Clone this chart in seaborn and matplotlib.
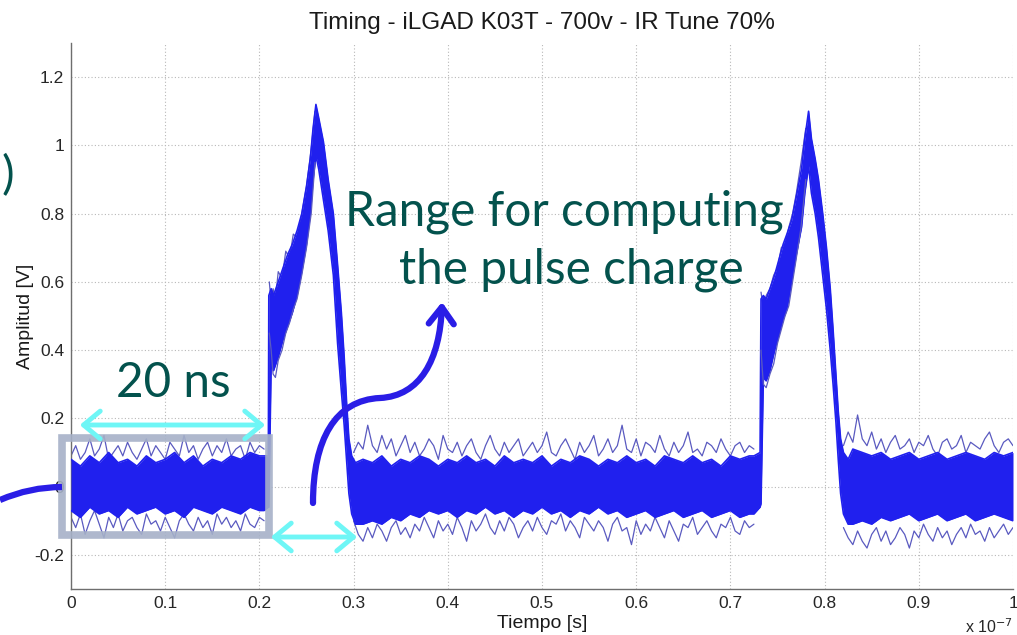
import numpy as np
import pandas as pd
import matplotlib
matplotlib.use("Agg")
import matplotlib.pyplot as plt
import seaborn as sns
from matplotlib.path import Path
from matplotlib.patches import FancyArrowPatch, PathPatch, Rectangle

# ---------------- data (time in units of 1e-7 s, amplitude in V) ----------------
title = "Timing - iLGAD K03T - 700v - IR Tune 70%"
x_label = "Tiempo [s]"
y_label = "Amplitud [V]"
x_ticks = [0, 0.1, 0.2, 0.3, 0.4, 0.5, 0.6, 0.7, 0.8, 0.9, 1.0]
x_tick_labels = ["0", "0.1", "0.2", "0.3", "0.4", "0.5", "0.6", "0.7", "0.8", "0.9", "1"]
y_ticks = [-0.2, 0, 0.2, 0.4, 0.6, 0.8, 1.0, 1.2]
y_tick_labels = ["-0.2", "0", "0.2", "0.4", "0.6", "0.8", "1", "1.2"]

# dense core of the overlaid waveforms: baseline 0.00-0.20
base1_hi = [0.08, 0.06, 0.09, 0.07, 0.10, 0.07, 0.08, 0.06, 0.09, 0.07, 0.08,
            0.10, 0.07, 0.09, 0.06, 0.08, 0.07, 0.09, 0.08, 0.10, 0.09]
base1_lo = [-0.07, -0.09, -0.06, -0.08, -0.07, -0.09, -0.06, -0.08, -0.07, -0.06, -0.08,
            -0.07, -0.09, -0.06, -0.07, -0.08, -0.06, -0.07, -0.08, -0.06, -0.07]
# first pulse
pulse1_t = [0.205, 0.2095, 0.2100, 0.2125, 0.2150, 0.2200, 0.2250, 0.2300, 0.2350, 0.2400,
            0.2450, 0.2500, 0.2540, 0.2570, 0.2600, 0.2630, 0.2680, 0.2730, 0.2785, 0.2830,
            0.2870, 0.2900, 0.2925, 0.2950, 0.2980, 0.3020]
pulse1_hi = [0.09, 0.09, 0.56, 0.58, 0.56, 0.60, 0.64, 0.68, 0.71, 0.75,
             0.80, 0.88, 0.96, 1.05, 1.12, 1.08, 1.01, 0.90, 0.80, 0.65,
             0.51, 0.38, 0.25, 0.14, 0.09, 0.07]
pulse1_lo = [-0.07, -0.06, -0.06, 0.36, 0.34, 0.38, 0.43, 0.47, 0.51, 0.56,
             0.63, 0.71, 0.80, 0.90, 0.97, 0.93, 0.84, 0.75, 0.62, 0.42,
             0.28, 0.18, 0.08, -0.02, -0.08, -0.11]
# baseline 0.31-0.72
base2_hi = [0.08, 0.07, 0.09, 0.06, 0.08, 0.07, 0.09, 0.08, 0.06, 0.08, 0.07, 0.09, 0.07, 0.08,
            0.06, 0.09, 0.07, 0.08, 0.07, 0.09, 0.06, 0.08, 0.07, 0.09, 0.08, 0.06, 0.08, 0.07,
            0.09, 0.07, 0.08, 0.06, 0.09, 0.08, 0.07, 0.09, 0.07, 0.08, 0.06, 0.09, 0.08, 0.09]
base2_lo = [-0.11, -0.10, -0.11, -0.09, -0.10, -0.08, -0.09, -0.07, -0.08, -0.07, -0.09, -0.07,
            -0.08, -0.06, -0.08, -0.07, -0.09, -0.07, -0.08, -0.06, -0.08, -0.07, -0.09, -0.07,
            -0.08, -0.06, -0.08, -0.07, -0.09, -0.08, -0.07, -0.09, -0.08, -0.07, -0.09, -0.08,
            -0.07, -0.09, -0.08, -0.07, -0.09, -0.08]
# second pulse
pulse2_t = [0.725, 0.7315, 0.7325, 0.7350, 0.7380, 0.7420, 0.7470, 0.7520, 0.7560, 0.7600,
            0.7650, 0.7700, 0.7755, 0.7790, 0.7830, 0.7860, 0.7900, 0.7935, 0.7980, 0.8020,
            0.8060, 0.8090, 0.8120, 0.8145, 0.8170, 0.8200, 0.8250]
pulse2_hi = [0.09, 0.10, 0.55, 0.56, 0.55, 0.58, 0.62, 0.67, 0.71, 0.74,
             0.78, 0.85, 0.93, 1.02, 1.10, 1.02, 0.96, 0.90, 0.80, 0.70,
             0.58, 0.46, 0.33, 0.22, 0.14, 0.10, 0.08]
pulse2_lo = [-0.08, -0.06, -0.05, 0.32, 0.31, 0.34, 0.40, 0.45, 0.49, 0.52,
             0.60, 0.68, 0.76, 0.86, 0.94, 0.86, 0.80, 0.73, 0.62, 0.52,
             0.40, 0.30, 0.19, 0.08, -0.02, -0.08, -0.11]
# baseline 0.83-1.00
base3_hi = [0.11, 0.10, 0.09, 0.10, 0.08, 0.09, 0.10, 0.08, 0.09,
            0.10, 0.08, 0.09, 0.10, 0.09, 0.08, 0.10, 0.09, 0.10]
base3_lo = [-0.11, -0.10, -0.11, -0.09, -0.10, -0.09, -0.08, -0.10, -0.09,
            -0.08, -0.10, -0.09, -0.08, -0.10, -0.09, -0.08, -0.09, -0.10]

# outlying single traces (noise excursions) in the three baseline stretches
out1_up = [0.09, 0.12, 0.08, 0.10, 0.14, 0.09, 0.11, 0.15, 0.08, 0.10, 0.12, 0.09, 0.13, 0.10,
           0.08, 0.11, 0.14, 0.09, 0.12, 0.10, 0.08, 0.13, 0.11, 0.09, 0.15, 0.10, 0.12, 0.08,
           0.11, 0.13, 0.09, 0.12, 0.10, 0.14, 0.09, 0.11, 0.12, 0.08, 0.13, 0.10, 0.12, 0.11]
out1_dn = [-0.09, -0.12, -0.08, -0.14, -0.10, -0.07, -0.11, -0.15, -0.09, -0.12, -0.08, -0.13,
           -0.10, -0.09, -0.12, -0.14, -0.08, -0.11, -0.10, -0.13, -0.09, -0.12, -0.15, -0.10,
           -0.08, -0.11, -0.13, -0.09, -0.12, -0.10, -0.14, -0.08, -0.11, -0.09, -0.12, -0.10,
           -0.13, -0.08, -0.11, -0.12, -0.09, -0.10]
out2_up = [0.10, 0.13, 0.11, 0.18, 0.12, 0.10, 0.15, 0.11, 0.14, 0.09, 0.12, 0.15, 0.10, 0.13,
           0.09, 0.11, 0.14, 0.12, 0.08, 0.15, 0.11, 0.10, 0.13, 0.09, 0.12, 0.14, 0.10, 0.08,
           0.12, 0.15, 0.11, 0.09, 0.13, 0.10, 0.12, 0.14, 0.09, 0.11, 0.13, 0.10, 0.12, 0.16,
           0.10, 0.09, 0.12, 0.14, 0.11, 0.08, 0.13, 0.10, 0.12, 0.15, 0.09, 0.11, 0.14, 0.10,
           0.12, 0.18, 0.11, 0.10, 0.14, 0.09, 0.13, 0.12, 0.10, 0.15, 0.11, 0.09, 0.13, 0.10,
           0.12, 0.16, 0.10, 0.11, 0.09, 0.13, 0.12, 0.10, 0.14, 0.11, 0.09, 0.12, 0.13, 0.10,
           0.12, 0.11]
out2_dn = [-0.10, -0.14, -0.16, -0.12, -0.15, -0.11, -0.13, -0.16, -0.12, -0.10, -0.14, -0.12,
           -0.15, -0.11, -0.13, -0.09, -0.12, -0.15, -0.10, -0.13, -0.11, -0.14, -0.09, -0.12,
           -0.16, -0.10, -0.13, -0.11, -0.08, -0.12, -0.14, -0.10, -0.13, -0.09, -0.11, -0.15,
           -0.12, -0.10, -0.13, -0.09, -0.12, -0.14, -0.10, -0.11, -0.08, -0.13, -0.10, -0.12,
           -0.15, -0.09, -0.11, -0.13, -0.10, -0.12, -0.16, -0.11, -0.09, -0.13, -0.12, -0.17,
           -0.10, -0.14, -0.11, -0.13, -0.09, -0.12, -0.15, -0.10, -0.13, -0.16, -0.11, -0.12,
           -0.09, -0.14, -0.12, -0.10, -0.13, -0.15, -0.11, -0.12, -0.09, -0.13, -0.14, -0.10,
           -0.12, -0.11]
out3_up = [0.12, 0.16, 0.13, 0.21, 0.14, 0.12, 0.16, 0.11, 0.14, 0.10, 0.13, 0.15, 0.11, 0.12,
           0.14, 0.10, 0.13, 0.12, 0.15, 0.11, 0.09, 0.13, 0.14, 0.11, 0.12, 0.15, 0.10, 0.13,
           0.12, 0.11, 0.14, 0.16, 0.12, 0.10, 0.13, 0.14, 0.12]
out3_dn = [-0.12, -0.15, -0.17, -0.13, -0.16, -0.18, -0.14, -0.12, -0.16, -0.13, -0.17, -0.15,
           -0.12, -0.14, -0.18, -0.13, -0.15, -0.11, -0.14, -0.16, -0.12, -0.15, -0.13, -0.17,
           -0.14, -0.12, -0.15, -0.11, -0.14, -0.13, -0.16, -0.12, -0.15, -0.13, -0.11, -0.14,
           -0.12]

# outlying traces along the rising ramps of the pulses
ramp1_t = [0.2105, 0.2125, 0.2145, 0.2170, 0.2200, 0.2240, 0.2280, 0.2320, 0.2360, 0.2400,
           0.2450, 0.2500, 0.2550, 0.2590]
ramp1_up = [0.60, 0.54, 0.58, 0.55, 0.63, 0.61, 0.69, 0.67, 0.74, 0.73, 0.80, 0.88, 0.99, 1.10]
ramp1_dn = [0.45, 0.40, 0.33, 0.32, 0.37, 0.40, 0.45, 0.48, 0.52, 0.55, 0.62, 0.70, 0.80, 0.95]
ramp2_t = [0.7325, 0.7350, 0.7380, 0.7420, 0.7460, 0.7500, 0.7540, 0.7580, 0.7620, 0.7660,
           0.7700, 0.7750, 0.7800]
ramp2_up = [0.57, 0.52, 0.56, 0.58, 0.62, 0.64, 0.70, 0.71, 0.76, 0.80, 0.86, 0.95, 1.05]
ramp2_dn = [0.40, 0.30, 0.29, 0.33, 0.36, 0.42, 0.46, 0.50, 0.53, 0.60, 0.67, 0.76, 0.90]

# overlay annotations
note_line1 = "Range for computing"
note_line2 = "the pulse charge"
note_window = "20 ns"
note_partial = ")"

# ---------------- figure ----------------
sns.set_theme(style="white")
plt.rcParams["font.family"] = ["Liberation Sans", "DejaVu Sans"]
plt.rcParams["axes.unicode_minus"] = False

W, H = 1017, 635
fig = plt.figure(figsize=(W / 100, H / 100), dpi=100)
fig.patch.set_facecolor("white")
ax = fig.add_axes([71 / W, 1 - 589 / H, (1013 - 71) / W, (589 - 43) / H])
ax.set_facecolor("white")

core_col = "#2020ee"
trace_col = "#5a5ac0"

# build core band
t_b1 = np.linspace(0.0, 0.20, len(base1_hi))
t_b2 = np.linspace(0.31, 0.72, len(base2_hi))
t_b3 = np.linspace(0.83, 1.00, len(base3_hi))
t_core = np.concatenate([t_b1, pulse1_t, t_b2, pulse2_t, t_b3])
hi_core = np.concatenate([base1_hi, pulse1_hi, base2_hi, pulse2_hi, base3_hi])
lo_core = np.concatenate([base1_lo, pulse1_lo, base2_lo, pulse2_lo, base3_lo])
ax.fill_between(t_core, lo_core, hi_core, color=core_col, lw=0, zorder=3)
sns.lineplot(x=t_core, y=hi_core, sort=False, estimator=None, color=core_col, lw=1.2, ax=ax, zorder=3)
sns.lineplot(x=t_core, y=lo_core, sort=False, estimator=None, color=core_col, lw=1.2, ax=ax, zorder=3)

# outlier traces
for (t0, t1, up, dn) in [(0.0, 0.205, out1_up, out1_dn),
                         (0.30, 0.725, out2_up, out2_dn),
                         (0.82, 1.0, out3_up, out3_dn)]:
    tt = np.linspace(t0, t1, len(up))
    sns.lineplot(x=tt, y=up, sort=False, estimator=None, color=trace_col, lw=0.9, ax=ax, zorder=2)
    tt = np.linspace(t0, t1, len(dn))
    sns.lineplot(x=tt, y=dn, sort=False, estimator=None, color=trace_col, lw=0.9, ax=ax, zorder=2)
for (tt, up, dn) in [(ramp1_t, ramp1_up, ramp1_dn), (ramp2_t, ramp2_up, ramp2_dn)]:
    sns.lineplot(x=tt, y=up, sort=False, estimator=None, color=trace_col, lw=0.9, ax=ax, zorder=2)
    sns.lineplot(x=tt, y=dn, sort=False, estimator=None, color=trace_col, lw=0.9, ax=ax, zorder=4)

ax.set_xlim(0, 1.0)
ax.set_ylim(-0.3, 1.3)
ax.set_xticks(x_ticks)
ax.set_xticklabels(x_tick_labels)
ax.set_yticks(y_ticks)
ax.set_yticklabels(y_tick_labels)
ax.grid(True, linestyle=(0, (1, 2)), color="#b8b8b8", lw=0.8, zorder=0)
for s in ["top", "right"]:
    ax.spines[s].set_visible(False)
for s in ["left", "bottom"]:
    ax.spines[s].set_color("#6e6e6e")
    ax.spines[s].set_linewidth(1.0)
ax.tick_params(direction="in", length=5, width=1, color="#6e6e6e",
               labelsize=12.5, labelcolor="#262626", pad=5)
ax.set_xlabel(x_label, fontsize=14, color="#1a1a1a")
ax.xaxis.label.set_va("center")
ax.xaxis.set_label_coords(0.5, (589 - 623) / (589 - 43))
ax.set_ylabel(y_label, fontsize=14, color="#1a1a1a")
ax.yaxis.label.set_va("center")
ax.yaxis.set_label_coords((26 - 71) / (1013 - 71), 0.5)
ax.set_title(title, fontsize=17.5, color="#1a1a1a", pad=10)
fig.text(1013 / W, 1 - 627 / H, r"x 10$^{-7}$", fontsize=11.5, ha="right", va="center", color="#262626")

# ---------------- overlay (pixel positions -> figure fraction) ----------------
def fx(px):
    return px / W

def fy(py):
    return 1 - py / H

teal = "#03524d"
fig.text(fx(564), fy(212), note_line1, fontsize=34.4, family="Lato", color=teal,
         ha="center", va="center")
fig.text(fx(571), fy(270), note_line2, fontsize=34.4, family="Lato", color=teal,
         ha="center", va="center")
fig.text(fx(173), fy(383), note_window, fontsize=34.3, family="Lato", color=teal,
         ha="center", va="center")
fig.text(fx(8), fy(176), note_partial, fontsize=34, family="Lato", color=teal,
         ha="center", va="center")

rect = Rectangle((fx(62), fy(535)), (269 - 62) / W, (535 - 438) / H, transform=fig.transFigure,
                 fill=False, ec="#a6b1c8", lw=5.5, alpha=0.9, zorder=10)
fig.patches.append(rect)

cyan = "#6ff6f6"
for (a, b) in [((77, 425), (268, 425)), ((268, 537), (360, 537))]:
    arr = FancyArrowPatch((fx(a[0]), fy(a[1])), (fx(b[0]), fy(b[1])), transform=fig.transFigure,
                          arrowstyle="<->,head_length=0.6,head_width=0.5", mutation_scale=20,
                          color=cyan, lw=3.5, zorder=11)
    fig.patches.append(arr)

blue = "#2a1de6"
p1 = Path([(fx(0), fy(500)), (fx(30), fy(487)), (fx(62), fy(487))],
          [Path.MOVETO, Path.CURVE3, Path.CURVE3])
fig.patches.append(PathPatch(p1, transform=fig.transFigure, fill=False, ec=blue, lw=4.5, zorder=11))

p2 = Path([(fx(313), fy(503)), (fx(313), fy(440)), (fx(335), fy(400)), (fx(380), fy(398)),
           (fx(420), fy(396)), (fx(440), fy(360)), (fx(442), fy(302))],
          [Path.MOVETO, Path.CURVE4, Path.CURVE4, Path.CURVE4, Path.CURVE4, Path.CURVE4, Path.CURVE4])
arr2 = FancyArrowPatch(path=p2, transform=fig.transFigure,
                       arrowstyle="->,head_length=0.6,head_width=0.45", mutation_scale=20,
                       color=blue, lw=4.5, zorder=11)
fig.patches.append(arr2)

fig.savefig("out.png", dpi=100)
